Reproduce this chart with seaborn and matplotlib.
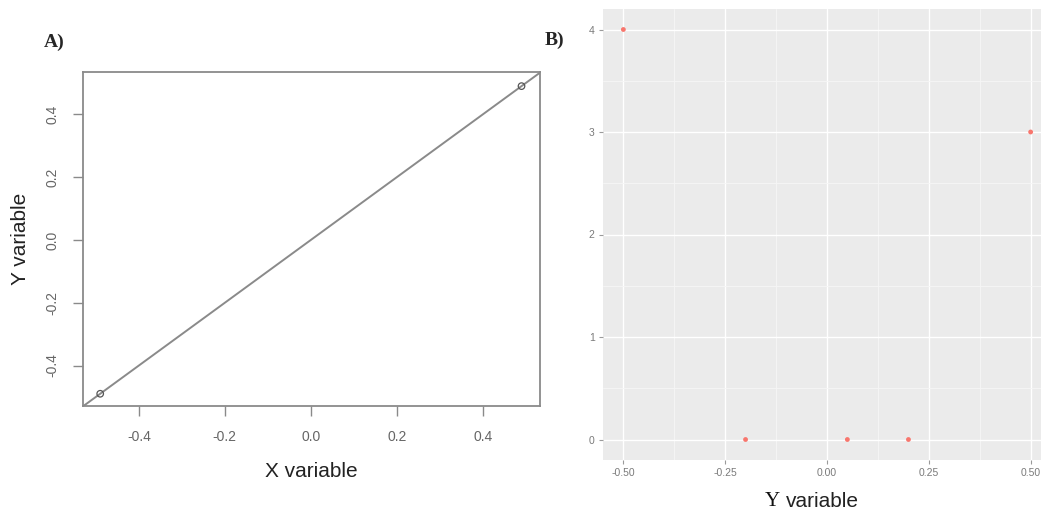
import matplotlib
matplotlib.use("Agg")
import matplotlib.pyplot as plt
import seaborn as sns
import numpy as np
import pandas as pd

# Panel A: two observations on the identity line
a_x = [-0.49, 0.49]
a_y = [-0.49, 0.49]
a_intercept = 0.0
a_slope = 1.0
a_ticks = [-0.4, -0.2, 0.0, 0.2, 0.4]

# Panel B: scatter of five observations
b_x = [-0.5, -0.2, 0.05, 0.2, 0.5]
b_y = [4, 0, 0, 0, 3]
b_xticks = [-0.50, -0.25, 0.00, 0.25, 0.50]
b_yticks = [0, 1, 2, 3, 4]

sns.set_theme(style="white")
plt.rcParams["font.family"] = ["Liberation Sans", "DejaVu Sans"]

fig = plt.figure(figsize=(10.41, 5.14), dpi=100)

# ---------- Panel A (base-graphics look) ----------
axA = fig.add_axes([83 / 1041, 108 / 514, 457 / 1041, 334 / 514])
dfA = pd.DataFrame({"x": a_x, "y": a_y})
axA.axline((0, a_intercept), slope=a_slope, color="#8a8a8a", lw=1.4, zorder=1)
sns.scatterplot(data=dfA, x="x", y="y", ax=axA, s=22, marker="o",
                facecolor="none", edgecolor="#555555", linewidth=0.9, zorder=2)
axA.set_xlim(-0.53, 0.533)
axA.set_ylim(-0.529, 0.535)
axA.set_xticks(a_ticks)
axA.set_yticks(a_ticks)
axA.set_xticklabels([f"{t:.1f}" for t in a_ticks])
axA.set_yticklabels([f"{t:.1f}" for t in a_ticks], rotation=90, va="center")
for s in axA.spines.values():
    s.set_color("#8a8a8a")
    s.set_linewidth(1.3)
axA.tick_params(axis="both", direction="out", length=7, width=1.0,
                color="#8a8a8a", labelcolor="#666666", labelsize=10, pad=10)
axA.tick_params(axis="both", bottom=True, left=True)
axA.set_xlabel("X variable", fontsize=15, color="#222222", labelpad=13)
axA.set_ylabel("Y variable", fontsize=15, color="#222222", labelpad=11)
axA.grid(False)

# ---------- Panel B (ggplot-like look) ----------
axB = fig.add_axes([603 / 1041, 54 / 514, 448 / 1041, 451 / 514])
dfB = pd.DataFrame({"x": b_x, "y": b_y})
axB.set_facecolor("#EBEBEB")
axB.set_xlim(-0.55, 0.55)
axB.set_ylim(-0.2, 4.2)
axB.set_xticks(b_xticks)
axB.set_yticks(b_yticks)
axB.set_xticks([-0.375, -0.125, 0.125, 0.375], minor=True)
axB.set_yticks([0.5, 1.5, 2.5, 3.5], minor=True)
axB.grid(True, which="major", color="white", lw=1.0)
axB.grid(True, which="minor", color="#F6F6F6", lw=0.6)
axB.set_axisbelow(True)
sns.scatterplot(data=dfB, x="x", y="y", ax=axB, s=12, color="#F8766D",
                edgecolor="none", zorder=3)
for s in axB.spines.values():
    s.set_visible(False)
axB.set_xticklabels([f"{t:.2f}" for t in b_xticks])
axB.set_yticklabels([str(t) for t in b_yticks])
axB.tick_params(axis="both", which="major", direction="out", length=3, width=0.8,
                color="#9a9a9a", labelcolor="#7a7a7a", labelsize=7.5, pad=3)
axB.tick_params(axis="both", which="major", bottom=True, left=True)
axB.tick_params(axis="both", which="minor", length=0)
axB.set_xlabel("")
axB.set_ylabel("")
# Axis title with a serif "Y" followed by sans text
axB.text(0.362, -0.092, "Y", transform=axB.transAxes, ha="left", va="center",
         fontsize=15, family=["Liberation Serif", "DejaVu Serif"], color="#111111")
axB.text(0.408, -0.092, "variable", transform=axB.transAxes, ha="left", va="center",
         fontsize=15, color="#222222")

# Panel letters
fig.text(44 / 1041, 1 - 42 / 514, "A)", fontsize=14, fontweight="bold",
         family=["Liberation Serif", "DejaVu Serif"], va="center", ha="left")
fig.text(545 / 1041, 1 - 40 / 514, "B)", fontsize=14, fontweight="bold",
         family=["Liberation Serif", "DejaVu Serif"], va="center", ha="left")

fig.savefig("out.png", dpi=100)
